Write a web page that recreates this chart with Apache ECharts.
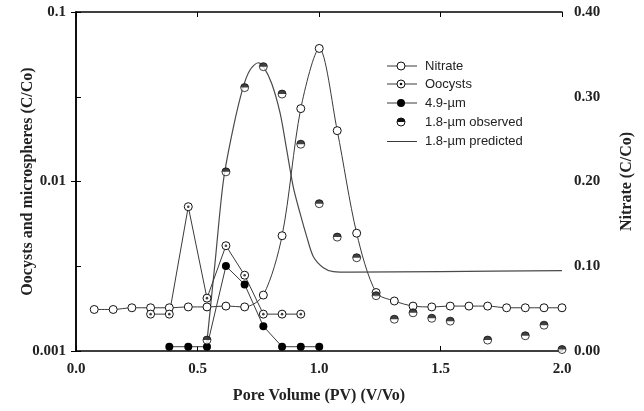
<!DOCTYPE html>
<html>
<head>
<meta charset="utf-8">
<script src="https://cdn.jsdelivr.net/npm/echarts@6/dist/echarts.min.js"></script>
<style>
  html, body { margin: 0; padding: 0; background: #fff; }
  #chart { width: 644px; height: 411px; }
</style>
</head>
<body>
<div id="chart"></div>
<script>
// pore volume (x) and concentrations
var nitratePV = [0.075, 0.153, 0.230, 0.307, 0.384, 0.462, 0.539, 0.617, 0.694, 0.771, 0.848, 0.925, 1.001,
                 1.075, 1.155, 1.235, 1.310, 1.387, 1.464, 1.540, 1.617, 1.694, 1.772, 1.849, 1.926, 2.000];
var nitrate = [0.049, 0.049, 0.051, 0.051, 0.051, 0.052, 0.052, 0.053, 0.052, 0.066, 0.136, 0.286, 0.357,
               0.260, 0.139, 0.069, 0.059, 0.053, 0.052, 0.053, 0.053, 0.053, 0.051, 0.051, 0.051, 0.051];

var oocystPV = [0.307, 0.384, 0.462, 0.539, 0.617, 0.694, 0.771, 0.848, 0.925];
var oocyst = [0.00165, 0.00165, 0.0071, 0.00205, 0.00418, 0.0028, 0.00165, 0.00165, 0.00165];

var bead49PV = [0.384, 0.462, 0.539, 0.617, 0.694, 0.771, 0.848, 0.925, 1.001];
var bead49 = [0.00106, 0.00106, 0.00106, 0.00317, 0.00247, 0.0014, 0.00106, 0.00106, 0.00106];

var obs18PV = [0.539, 0.617, 0.694, 0.771, 0.848, 0.925, 1.001, 1.075, 1.155, 1.235, 1.310, 1.387,
               1.464, 1.540, 1.694, 1.849, 1.926, 2.000];
var obs18 = [0.00116, 0.0114, 0.0358, 0.0476, 0.0328, 0.0166, 0.0074, 0.0047, 0.00355, 0.00212, 0.00154, 0.00168,
             0.00156, 0.0015, 0.00116, 0.00123, 0.00142, 0.00102];

var predPV = [0.535, 0.572, 0.607, 0.648, 0.687, 0.716, 0.750, 0.771, 0.805, 0.840, 0.867, 0.894,
              0.922, 0.950, 0.977, 1.018, 1.059, 1.128, 1.500, 2.000];
var pred = [0.001, 0.0033, 0.0102, 0.021, 0.0357, 0.0455, 0.0502, 0.0476, 0.038, 0.0253, 0.0154, 0.0093,
            0.0065, 0.0047, 0.0036, 0.0031, 0.00294, 0.00292, 0.00294, 0.00298];

var legendNames = ['Nitrate', 'Oocysts', '4.9-\u00b5m', '1.8-\u00b5m observed', '1.8-\u00b5m predicted'];

function pairs(xs, ys) {
    return xs.map(function (x, i) { return [x, ys[i]]; });
}

var serif = 'Liberation Serif';
var tickFont = { fontFamily: serif, fontWeight: 'bold', fontSize: 15, color: '#222' };
var titleFont = { fontFamily: serif, fontWeight: 'bold', fontSize: 16, color: '#222' };
var ink = '#111';
var lineCol = '#3a3a3a';

// hand-drawn legend (markers are two-part symbols)
function legendGraphic() {
    var x0 = 387, x1 = 417, xm = 401, xt = 425;
    var rows = [66, 84, 103, 122, 141.5];
    var els = [];
    rows.forEach(function (y, i) {
        if (i !== 3) {
            els.push({ type: 'line', shape: { x1: x0, y1: y, x2: x1, y2: y }, style: { stroke: lineCol, lineWidth: 1 } });
        }
        if (i === 0 || i === 1) {
            els.push({ type: 'circle', shape: { cx: xm, cy: y, r: 4 }, style: { fill: '#fff', stroke: ink, lineWidth: 1 } });
        }
        if (i === 1) {
            els.push({ type: 'circle', shape: { cx: xm, cy: y, r: 1.3 }, style: { fill: ink } });
        }
        if (i === 2) {
            els.push({ type: 'circle', shape: { cx: xm, cy: y, r: 4 }, style: { fill: '#000' } });
        }
        if (i === 3) {
            els.push({ type: 'circle', shape: { cx: xm, cy: y, r: 4 }, style: { fill: '#fff', stroke: ink, lineWidth: 1 } });
            els.push({ type: 'sector', shape: { cx: xm, cy: y, r: 4, r0: 0, startAngle: Math.PI, endAngle: 2 * Math.PI, clockwise: true }, style: { fill: ink } });
        }
        els.push({ type: 'text', style: { x: xt, y: y, text: legendNames[i], font: '13px "Liberation Sans"', fill: '#222', verticalAlign: 'middle' } });
    });
    return els;
}

var chart = echarts.init(document.getElementById('chart'));
var option = {
    animation: false,
    backgroundColor: '#fff',
    grid: { left: 76, right: 82, top: 12, bottom: 60 },
    xAxis: [
        {
            type: 'value', min: 0, max: 2, interval: 0.5, position: 'bottom',
            axisLine: { lineStyle: { color: '#000', width: 1.5 } },
            axisTick: { inside: true, length: 5, lineStyle: { color: '#000' } },
            axisLabel: Object.assign({ margin: 11, formatter: function (v) { return v.toFixed(1); } }, tickFont),
            splitLine: { show: false },
            name: 'Pore Volume (PV) (V/Vo)', nameLocation: 'middle', nameGap: 37, nameMoveOverlap: false,
            nameTextStyle: titleFont
        },
        {
            type: 'value', min: 0, max: 2, interval: 0.5, position: 'top',
            axisLine: { lineStyle: { color: '#000', width: 1.5 } },
            axisTick: { inside: true, length: 5, lineStyle: { color: '#000' } },
            axisLabel: { show: false },
            splitLine: { show: false }
        }
    ],
    yAxis: [
        {
            type: 'log', logBase: 10, min: 0.001, max: 0.1, position: 'left',
            axisLine: { show: true, lineStyle: { color: '#000', width: 1.5 } },
            axisTick: { show: true, inside: false, length: 5, lineStyle: { color: '#000' } },
            minorTick: { show: false },
            axisLabel: Object.assign({ margin: 10, formatter: function (v) { return String(Number(v.toPrecision(2))); } }, tickFont),
            splitLine: { show: false },
            name: 'Oocysts and microspheres (C/Co)', nameLocation: 'middle', nameGap: 40, nameRotate: 90,
            nameMoveOverlap: false, nameTextStyle: titleFont
        },
        {
            type: 'value', min: 0, max: 0.4, interval: 0.1, position: 'right',
            axisLine: { show: true, lineStyle: { color: '#000', width: 1.5 } },
            axisTick: { show: true, inside: false, length: 5, lineStyle: { color: '#000' } },
            axisLabel: Object.assign({ margin: 12, formatter: function (v) { return v.toFixed(2); } }, tickFont),
            splitLine: { show: false },
            name: 'Nitrate (C/Co)', nameLocation: 'middle', nameGap: 57, nameRotate: 90,
            nameMoveOverlap: false, nameTextStyle: titleFont
        }
    ],
    graphic: legendGraphic(),
    series: [
        {
            name: '1.8-\u00b5m predicted', type: 'line', yAxisIndex: 0, smooth: 0.3,
            data: pairs(predPV, pred), showSymbol: false,
            lineStyle: { color: '#4a4a4a', width: 1.2 }, z: 2
        },
        {
            name: 'Nitrate', type: 'line', yAxisIndex: 1, smooth: 0.3, clip: false,
            data: pairs(nitratePV, nitrate), symbol: 'circle', symbolSize: 8,
            itemStyle: { color: '#fff', borderColor: ink, borderWidth: 1 },
            lineStyle: { color: lineCol, width: 1 }, z: 3
        },
        {
            name: 'Oocysts', type: 'line', yAxisIndex: 0, clip: false,
            data: pairs(oocystPV, oocyst), symbol: 'circle', symbolSize: 8,
            itemStyle: { color: '#fff', borderColor: ink, borderWidth: 1 },
            lineStyle: { color: lineCol, width: 1 }, z: 3
        },
        {
            name: 'Oocysts dot', type: 'scatter', yAxisIndex: 0, clip: false,
            data: pairs(oocystPV, oocyst), symbol: 'circle', symbolSize: 2.6,
            itemStyle: { color: ink }, z: 5
        },
        {
            name: '4.9-\u00b5m', type: 'line', yAxisIndex: 0, clip: false,
            data: pairs(bead49PV, bead49), symbol: 'circle', symbolSize: 8,
            itemStyle: { color: '#000', borderColor: '#000', borderWidth: 0 },
            lineStyle: { color: lineCol, width: 1 }, z: 4
        },
        {
            name: '1.8-\u00b5m observed', type: 'scatter', yAxisIndex: 0, clip: false,
            data: pairs(obs18PV, obs18), symbol: 'circle', symbolSize: 8,
            itemStyle: { color: '#fff', borderColor: ink, borderWidth: 1 }, z: 5
        },
        {
            name: '1.8-\u00b5m observed top', type: 'scatter', yAxisIndex: 0, clip: false,
            data: pairs(obs18PV, obs18), symbol: 'path://M0,10A10,10,0,0,1,20,10Z',
            symbolSize: [8, 4], symbolOffset: [0, -2],
            itemStyle: { color: ink }, z: 6
        }
    ]
};
chart.setOption(option);
</script>
</body>
</html>
